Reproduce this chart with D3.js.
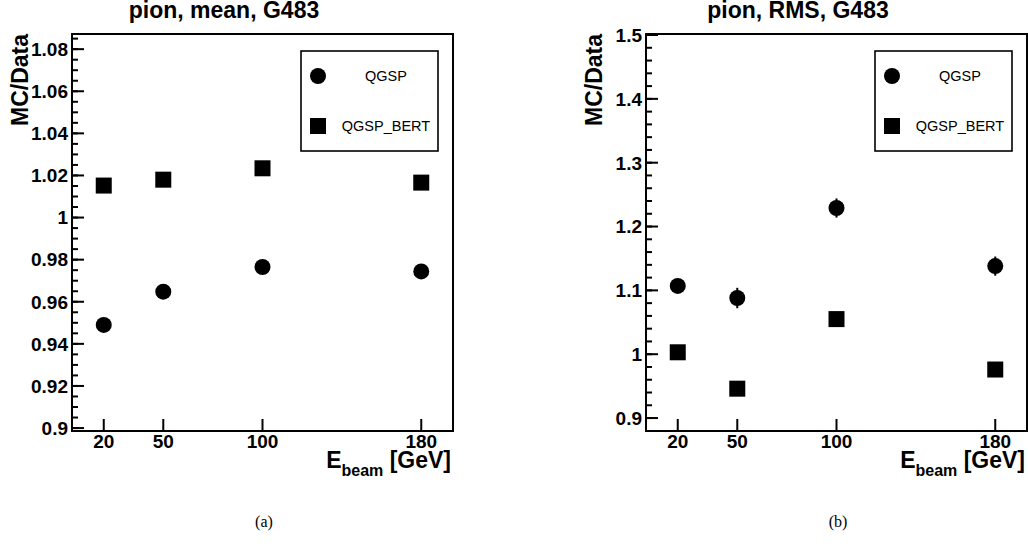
<!DOCTYPE html>
<html>
<head>
<meta charset="utf-8">
<script src="https://cdn.jsdelivr.net/npm/d3@7"></script>
<style>
    body { margin: 0; background: white; }
    svg { display: block; font-family: "Liberation Sans", Arial, Helvetica, sans-serif; }
    .tickLabel { font-weight: bold; font-size: 19px; }
    .axisTitle { font-weight: bold; font-size: 23px; }
    .legendText { font-size: 14.5px; }
    .caption { font-family: "Liberation Serif", "Times New Roman", serif; font-size: 16px; }
</style>
</head>
<body>
<svg id="chart" width="1028" height="556"></svg>
<script>
// Beam energies (GeV)
const energies = [20, 50, 100, 180];
const energyTicks = [20, 50, 100, 180];

// (a) mean ratio MC/Data
const meanQGSP = [0.949, 0.9648, 0.9765, 0.9744];
const meanQGSPErr = [0.001, 0.001, 0.001, 0.001];
const meanBERT = [1.0152, 1.0180, 1.0234, 1.0166];
const meanBERTErr = [0.001, 0.001, 0.001, 0.001];

// (b) RMS ratio MC/Data
const rmsQGSP = [1.107, 1.088, 1.229, 1.138];
const rmsQGSPErr = [0.006, 0.016, 0.015, 0.015];
const rmsBERT = [1.003, 0.946, 1.055, 0.976];
const rmsBERTErr = [0.004, 0.008, 0.006, 0.006];

const seriesNames = ["QGSP", "QGSP_BERT"];

class RatioPanel {
    constructor(opts) {
        this.opts = opts;
    }

    build(svg) {
        let o = this.opts;
        let w = 381, h = 397;
        this.x = d3.scaleLinear().domain([4, 196]).range([0, w]);
        this.y = d3.scaleLinear().domain(o.yDomain).range([h, 0]);

        let g = svg.append('g')
            .attr('transform', "translate(" + o.left + "," + o.top + ")");

        // title, shifted left of the frame centre like the original
        g.append('text')
            .attr('class', "axisTitle")
            .attr('x', 152)
            .attr('y', 18 - o.top)
            .attr('text-anchor', 'middle')
            .text(o.title);

        this._y_axis(g, h);
        this._x_axis(g, h, w);

        // data points
        let x = this.x, y = this.y;
        let rows = energies.map((e, i) => ({e: e, a: o.circles[i], ae: o.circlesErr[i], b: o.squares[i], be: o.squaresErr[i]}));

        let pts = g.append('g').attr('class', "points");
        pts.selectAll('.errA')
            .data(rows)
            .enter()
            .append('line')
            .attr('x1', d => x(d.e)).attr('x2', d => x(d.e))
            .attr('y1', d => y(d.a - d.ae)).attr('y2', d => y(d.a + d.ae))
            .attr('stroke', "black").attr('stroke-width', 2);
        pts.selectAll('.errB')
            .data(rows)
            .enter()
            .append('line')
            .attr('x1', d => x(d.e)).attr('x2', d => x(d.e))
            .attr('y1', d => y(d.b - d.be)).attr('y2', d => y(d.b + d.be))
            .attr('stroke', "black").attr('stroke-width', 2);
        pts.selectAll('circle')
            .data(rows)
            .enter()
            .append('circle')
            .attr('cx', d => x(d.e))
            .attr('cy', d => y(d.a))
            .attr('r', 8)
            .attr('fill', "black");
        pts.selectAll('rect')
            .data(rows)
            .enter()
            .append('rect')
            .attr('x', d => x(d.e) - 8)
            .attr('y', d => y(d.b) - 8)
            .attr('width', 16)
            .attr('height', 16)
            .attr('fill', "black");

        this._legend(g, w);

        // frame on top
        g.append('rect')
            .attr('width', w)
            .attr('height', h)
            .attr('fill', "none")
            .attr('stroke', "black")
            .attr('stroke-width', 2);

        // caption below the panel
        svg.append('text')
            .attr('class', "caption")
            .attr('x', o.left + 192)
            .attr('y', 527)
            .attr('text-anchor', 'middle')
            .text(o.caption);
    }

    _y_axis(g, h) {
        let o = this.opts, y = this.y;
        let [lo, hi] = y.domain();
        let minors = d3.range(o.yStart, hi, o.minorStep).filter(v => v > lo + 1e-4);
        let majors = d3.range(o.yStart, hi + 1e-9, o.majorStep);

        g.selectAll('.minorY')
            .data(minors)
            .enter()
            .append('line')
            .attr('x1', 0).attr('x2', 6)
            .attr('y1', d => y(d)).attr('y2', d => y(d))
            .attr('stroke', "black").attr('stroke-width', 2);

        g.selectAll('.majorY')
            .data(majors)
            .enter()
            .append('line')
            .attr('x1', 0).attr('x2', 12)
            .attr('y1', d => y(d)).attr('y2', d => y(d))
            .attr('stroke', "black").attr('stroke-width', 2);

        g.selectAll('.yLabel')
            .data(majors)
            .enter()
            .append('text')
            .attr('class', "tickLabel")
            .attr('x', -4)
            .attr('y', d => y(d))
            .attr('dy', '0.36em')
            .attr('text-anchor', 'end')
            .text(d => String(+d.toFixed(2)));

        g.append('text')
            .attr('class', "axisTitle")
            .attr('transform', "translate(" + (-44) + ",0) rotate(-90)")
            .attr('text-anchor', 'end')
            .text("MC/Data");
    }

    _x_axis(g, h, w) {
        let x = this.x;
        g.selectAll('.majorX')
            .data(energyTicks)
            .enter()
            .append('line')
            .attr('x1', d => x(d)).attr('x2', d => x(d))
            .attr('y1', h).attr('y2', h - 12)
            .attr('stroke', "black").attr('stroke-width', 2);

        g.selectAll('.xLabel')
            .data(energyTicks)
            .enter()
            .append('text')
            .attr('class', "tickLabel")
            .attr('x', d => x(d))
            .attr('y', h + 17)
            .attr('text-anchor', 'middle')
            .text(d => d);

        let t = g.append('text')
            .attr('class', "axisTitle")
            .attr('x', w - 2)
            .attr('y', h + 37)
            .attr('text-anchor', 'end');
        t.append('tspan').text("E");
        t.append('tspan').attr('dy', 8).style('font-size', '16px').text("beam");
        t.append('tspan').attr('dy', -8).text(" [GeV]");
    }

    _legend(g, w) {
        let lx = w - 15 - 137, ly = 17;
        let lg = g.append('g')
            .attr('class', "legend")
            .attr('transform', "translate(" + lx + "," + ly + ")");
        lg.append('rect')
            .attr('width', 137)
            .attr('height', 100)
            .attr('fill', "white")
            .attr('stroke', "black")
            .attr('stroke-width', 1.6);
        lg.append('circle')
            .attr('cx', 17).attr('cy', 25).attr('r', 8)
            .attr('fill', "black");
        lg.append('rect')
            .attr('x', 9).attr('y', 67).attr('width', 16).attr('height', 16)
            .attr('fill', "black");
        lg.selectAll('.legendText')
            .data(seriesNames)
            .enter()
            .append('text')
            .attr('class', "legendText")
            .attr('x', 85)
            .attr('y', (d, i) => 30 + i * 50)
            .attr('text-anchor', 'middle')
            .text(d => d);
    }
}

const svg = d3.select('#chart');

new RatioPanel({
    left: 72, top: 34,
    title: "pion, mean, G483",
    caption: "(a)",
    yDomain: [0.8986, 1.0872],
    yStart: 0.9, majorStep: 0.02, minorStep: 0.005,
    circles: meanQGSP, circlesErr: meanQGSPErr,
    squares: meanBERT, squaresErr: meanBERTErr
}).build(svg);

new RatioPanel({
    left: 646, top: 34,
    title: "pion, RMS, G483",
    caption: "(b)",
    yDomain: [0.8797, 1.5016],
    yStart: 0.9, majorStep: 0.1, minorStep: 0.02,
    circles: rmsQGSP, circlesErr: rmsQGSPErr,
    squares: rmsBERT, squaresErr: rmsBERTErr
}).build(svg);
</script>
</body>
</html>
